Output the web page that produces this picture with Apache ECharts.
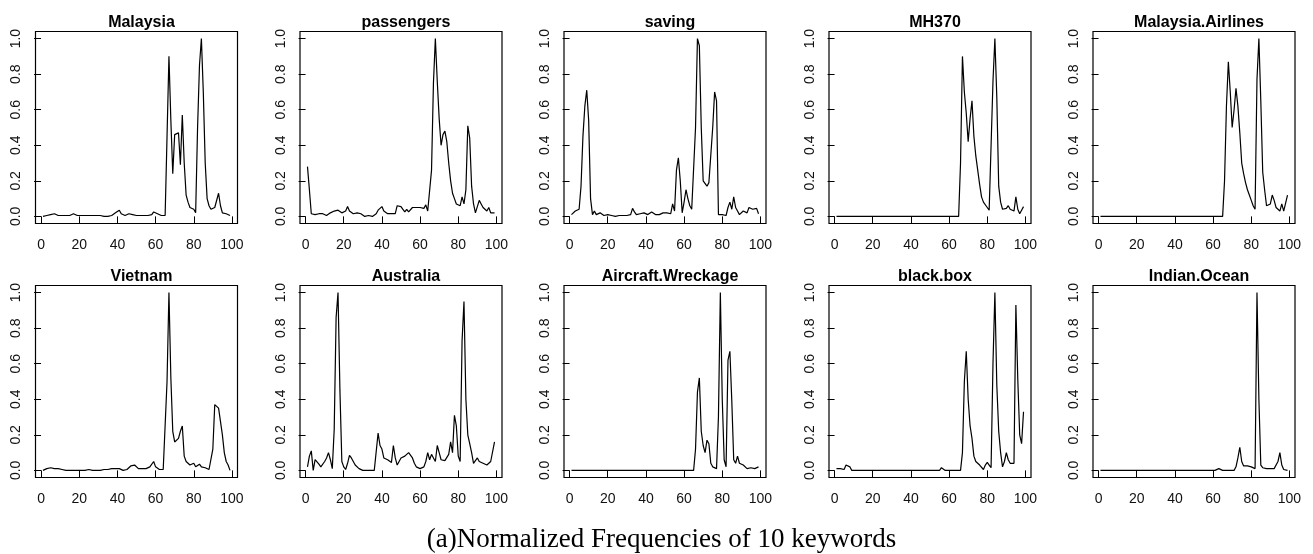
<!DOCTYPE html>
<html>
<head>
<meta charset="utf-8">
<title>Normalized Frequencies of 10 keywords</title>
<script src="https://cdn.jsdelivr.net/npm/echarts@6/dist/echarts.min.js"></script>
<style>
  html, body { margin: 0; padding: 0; background: #fff; }
  #main { width: 1313px; height: 554px; }
</style>
</head>
<body>
<div id="main"></div>
<script>
// panel titles, in drawing order (row by row)
var keywords = ['Malaysia', 'passengers', 'saving', 'MH370', 'Malaysia.Airlines',
  'Vietnam', 'Australia', 'Aircraft.Wreckage', 'black.box', 'Indian.Ocean'];

// normalized frequency per time step (x = 1..99)
var malaysia = [0, 0.005, 0.005, 0.01, 0.01, 0.01, 0.015, 0.01, 0.005, 0.005,
  0.005, 0.005, 0.005, 0.005, 0.005, 0.01, 0.015, 0.01, 0.005, 0.005,
  0.005, 0.005, 0.005, 0.005, 0.005, 0.005, 0.005, 0.005, 0.005, 0.005,
  0.005, 0.005, 0, 0, 0, 0.005, 0.005, 0.01, 0.02, 0.025,
  0.035, 0.015, 0.005, 0.005, 0.01, 0.015, 0.02, 0.01, 0.005, 0.005,
  0.005, 0.005, 0.005, 0.005, 0.005, 0.005, 0.005, 0.01, 0.025, 0.035,
  0.015, 0.005, 0.005, 0.005, 0.005, 0.45, 0.9, 0.54, 0.24, 0.46,
  0.46, 0.47, 0.29, 0.57, 0.3, 0.12, 0.08, 0.05, 0.045, 0.04,
  0.02, 0.5, 0.85, 1.0, 0.7, 0.3, 0.1, 0.06, 0.04, 0.03,
  0.05, 0.04, 0.13, 0.06, 0.02, 0.015, 0.015, 0.01, 0.005];

var passengers = [0.28, 0.15, 0.015, 0.015, 0.01, 0, 0.015, 0.025, 0.015, 0.01,
  0.005, 0.005, 0.02, 0.015, 0.03, 0.04, 0.035, 0.035, 0.02, 0.025,
  0.03, 0.055, 0.03, 0.02, 0.015, 0.025, 0.02, 0.025, 0.015, 0.005,
  0, 0, 0.005, 0.005, 0, 0.005, 0.015, 0.035, 0.045, 0.055,
  0.03, 0.02, 0.015, 0.02, 0.015, 0.015, 0.015, 0.06, 0.07, 0.055,
  0.04, 0.025, 0.04, 0.025, 0.035, 0.05, 0.04, 0.05, 0.05, 0.05,
  0.06, 0.045, 0.065, 0.03, 0.025, 0.26, 0.75, 1.0, 0.76, 0.55,
  0.4, 0.46, 0.48, 0.42, 0.3, 0.2, 0.13, 0.1, 0.07, 0.06,
  0.06, 0.11, 0.07, 0.15, 0.51, 0.44, 0.17, 0.07, 0.02, 0.02,
  0.09, 0.07, 0.05, 0.04, 0.03, 0.05, 0.02, 0.01, 0.02];

var saving = [0.01, 0.02, 0.03, 0.035, 0.04, 0.17, 0.45, 0.62, 0.71, 0.54,
  0.1, 0.01, 0.03, 0.01, 0.01, 0.02, 0.01, 0.005, 0.005, 0.01,
  0.01, 0.005, 0.01, 0, 0, 0.005, 0.005, 0.005, 0.005, 0.005,
  0.005, 0.01, 0.045, 0.025, 0.01, 0.005, 0.015, 0.02, 0.02, 0.03,
  0.01, 0.015, 0.025, 0.02, 0.01, 0.005, 0.01, 0.015, 0.02, 0.02,
  0.02, 0.02, 0.015, 0.07, 0.03, 0.26, 0.33, 0.2, 0.02, 0.08,
  0.15, 0.1, 0.06, 0.04, 0.03, 0.5, 1.0, 0.96, 0.5, 0.2,
  0.19, 0.17, 0.19, 0.2, 0.5, 0.7, 0.65, 0.01, 0.02, 0.01,
  0.01, 0.005, 0.05, 0.08, 0.04, 0.11, 0.05, 0.03, 0.01, 0.01,
  0.03, 0.02, 0.02, 0.05, 0.05, 0.04, 0.03, 0.045, 0.015];

var mh370 = [0, 0, 0, 0, 0, 0, 0, 0, 0, 0,
  0, 0, 0, 0, 0, 0, 0, 0, 0, 0,
  0, 0, 0, 0, 0, 0, 0, 0, 0, 0,
  0, 0, 0, 0, 0, 0, 0, 0, 0, 0,
  0, 0, 0, 0, 0, 0, 0, 0, 0, 0,
  0, 0, 0, 0, 0, 0, 0, 0, 0, 0,
  0, 0, 0, 0, 0, 0.3, 0.9, 0.7, 0.58, 0.42,
  0.55, 0.65, 0.45, 0.34, 0.26, 0.18, 0.11, 0.08, 0.075, 0.05,
  0.035, 0.03, 0.76, 1.0, 0.67, 0.17, 0.08, 0.04, 0.03, 0.045,
  0.06, 0.04, 0.03, 0.03, 0.11, 0.04, 0.015, 0.035, 0.055];

var malaysiaAirlines = [0, 0, 0, 0, 0, 0, 0, 0, 0, 0,
  0, 0, 0, 0, 0, 0, 0, 0, 0, 0,
  0, 0, 0, 0, 0, 0, 0, 0, 0, 0,
  0, 0, 0, 0, 0, 0, 0, 0, 0, 0,
  0, 0, 0, 0, 0, 0, 0, 0, 0, 0,
  0, 0, 0, 0, 0, 0, 0, 0, 0, 0,
  0, 0, 0, 0, 0, 0.2, 0.62, 0.87, 0.7, 0.5,
  0.6, 0.72, 0.62, 0.47, 0.3, 0.24, 0.19, 0.15, 0.12, 0.09,
  0.06, 0.04, 0.77, 1.0, 0.65, 0.25, 0.15, 0.06, 0.05, 0.07,
  0.12, 0.09, 0.05, 0.04, 0.03, 0.07, 0.03, 0.025, 0.12];

var vietnam = [0, 0.005, 0.01, 0.01, 0.015, 0.01, 0.01, 0.01, 0.01, 0.01,
  0.005, 0.005, 0, 0, 0, 0, 0, 0.005, 0, 0.005,
  0, 0, 0, 0.005, 0.005, 0, 0, 0, 0, 0,
  0, 0, 0.005, 0.005, 0.005, 0.005, 0.01, 0.015, 0.01, 0.02,
  0.01, 0.005, 0, 0, 0.005, 0.01, 0.025, 0.02, 0.03, 0.035,
  0.01, 0.01, 0.01, 0.01, 0.01, 0.01, 0.02, 0.03, 0.05, 0.02,
  0.01, 0.005, 0.005, 0.005, 0.005, 0.5, 1.0, 0.52, 0.22, 0.16,
  0.17, 0.18, 0.22, 0.25, 0.08, 0.05, 0.045, 0.03, 0.02, 0.04,
  0.02, 0.025, 0.035, 0.02, 0.02, 0.015, 0.01, 0.005, 0.01, 0.12,
  0.37, 0.36, 0.35, 0.35, 0.2, 0.1, 0.05, 0.03, 0];

var australia = [0.02, 0.08, 0.11, 0, 0.06, 0.05, 0.035, 0.02, 0.03, 0.05,
  0.07, 0.1, 0.06, 0.01, 0.23, 0.86, 1.0, 0.45, 0.05, 0.02,
  0.005, 0.04, 0.085, 0.07, 0.05, 0.03, 0.02, 0.01, 0.005, 0,
  0, 0, 0, 0, 0.005, 0, 0.005, 0.21, 0.14, 0.12,
  0.07, 0.06, 0.06, 0.05, 0.045, 0.14, 0.07, 0.03, 0.05, 0.07,
  0.06, 0.08, 0.09, 0.1, 0.11, 0.07, 0.04, 0.02, 0.015, 0.01,
  0.01, 0.02, 0.05, 0.1, 0.06, 0.09, 0.07, 0.05, 0.14, 0.1,
  0.06, 0.05, 0.055, 0.065, 0.09, 0.16, 0.1, 0.31, 0.25, 0.08,
  0.05, 0.73, 0.95, 0.4, 0.2, 0.15, 0.1, 0.04, 0.03, 0.07,
  0.05, 0.05, 0.04, 0.035, 0.03, 0.04, 0.05, 0.04, 0.16];

var aircraftWreckage = [0, 0, 0, 0, 0, 0, 0, 0, 0, 0,
  0, 0, 0, 0, 0, 0, 0, 0, 0, 0,
  0, 0, 0, 0, 0, 0, 0, 0, 0, 0,
  0, 0, 0, 0, 0, 0, 0, 0, 0, 0,
  0, 0, 0, 0, 0, 0, 0, 0, 0, 0,
  0, 0, 0, 0, 0, 0, 0, 0, 0, 0,
  0, 0, 0, 0, 0, 0.12, 0.44, 0.52, 0.22, 0.14,
  0.1, 0.17, 0.15, 0.04, 0.02, 0.015, 0.01, 0.3, 1.0, 0.4,
  0.06, 0.02, 0.62, 0.67, 0.39, 0.06, 0.04, 0.08, 0.04, 0.05,
  0.03, 0.02, 0.01, 0.01, 0.015, 0.01, 0.01, 0.015, 0.02];

var blackBox = [0.01, 0.01, 0.01, 0.005, 0.005, 0.03, 0.025, 0.02, 0, 0,
  0, 0, 0, 0, 0, 0, 0, 0, 0, 0,
  0, 0, 0, 0, 0, 0, 0, 0, 0, 0,
  0, 0, 0, 0, 0, 0, 0, 0, 0, 0,
  0, 0, 0, 0, 0, 0, 0, 0, 0, 0,
  0, 0, 0, 0, 0, 0.015, 0.005, 0, 0, 0,
  0, 0, 0, 0, 0, 0, 0.1, 0.5, 0.67, 0.4,
  0.25, 0.18, 0.08, 0.05, 0.04, 0.03, 0.02, 0.005, 0.03, 0.045,
  0.03, 0.015, 0.6, 1.0, 0.48, 0.22, 0.1, 0.02, 0.05, 0.1,
  0.06, 0.04, 0.03, 0.04, 0.93, 0.51, 0.2, 0.15, 0.33];

var indianOcean = [0, 0, 0, 0, 0, 0, 0, 0, 0, 0,
  0, 0, 0, 0, 0, 0, 0, 0, 0, 0,
  0, 0, 0, 0, 0, 0, 0, 0, 0, 0,
  0, 0, 0, 0, 0, 0, 0, 0, 0, 0,
  0, 0, 0, 0, 0, 0, 0, 0, 0, 0,
  0, 0, 0, 0, 0, 0, 0, 0, 0, 0,
  0, 0, 0.01, 0, 0, 0, 0, 0, 0, 0,
  0, 0.02, 0.07, 0.13, 0.05, 0.025, 0.02, 0.025, 0.02, 0.02,
  0.015, 0.01, 1.0, 0.4, 0.03, 0.015, 0.01, 0.01, 0.01, 0.01,
  0.01, 0.01, 0.005, 0.05, 0.1, 0.03, 0.005, 0, 0];

var xTicks = [0, 20, 40, 60, 80, 100];
var yTicks = [0, 0.2, 0.4, 0.6, 0.8, 1.0];
var caption = '(a)Normalized Frequencies of 10 keywords';

var allSeries = [malaysia, passengers, saving, mh370, malaysiaAirlines,
  vietnam, australia, aircraftWreckage, blackBox, indianOcean];

// panel boxes (R plot regions)
var boxLeft = [35.5, 300, 564, 829, 1093];
var boxTop = [31.5, 285.5];
var boxW = 202, boxH = 192;
var titleTop = [10, 264];

var chart = echarts.init(document.getElementById('main'));

var grids = [], xAxes = [], yAxes = [], series = [], titles = [];
var tickFont = { fontFamily: 'Liberation Sans', fontSize: 14, color: '#111' };

allSeries.forEach(function (vals, i) {
  var row = Math.floor(i / 5), col = i % 5;
  var n = vals.length;
  var padX = (n - 1) * 0.04;   // R's default 4% axis extension
  grids.push({
    left: boxLeft[col], top: boxTop[row], width: boxW, height: boxH,
    show: true, borderColor: '#000', borderWidth: 1.2, backgroundColor: 'transparent'
  });
  xAxes.push({
    gridIndex: i, type: 'value', min: 1 - padX, max: n + padX,
    axisLine: { show: false },
    splitLine: { show: false },
    axisTick: { show: true, customValues: xTicks, length: 7, lineStyle: { color: '#000', width: 1 } },
    axisLabel: Object.assign({ customValues: xTicks, margin: 15 }, tickFont)
  });
  yAxes.push({
    gridIndex: i, type: 'value', min: -0.04, max: 1.04,
    axisLine: { show: false },
    splitLine: { show: false },
    axisTick: { show: true, customValues: yTicks, length: 7, lineStyle: { color: '#000', width: 1 } },
    axisLabel: Object.assign({
      customValues: yTicks, margin: 12, rotate: 90,
      formatter: function (v) { return v.toFixed(1); }
    }, tickFont)
  });
  series.push({
    type: 'line', xAxisIndex: i, yAxisIndex: i,
    symbol: 'none', silent: true,
    lineStyle: { color: '#000', width: 1.2 },
    data: vals.map(function (v, k) { return [k + 1, v]; })
  });
  titles.push({
    text: keywords[i], left: boxLeft[col] + boxW / 2, top: titleTop[row], textAlign: 'center',
    textStyle: { fontFamily: 'Liberation Sans', fontSize: 16, fontWeight: 'bold', color: '#000' }
  });
});

titles.push({
  text: caption, left: 656.5, top: 521, textAlign: 'center',
  textStyle: { fontFamily: 'Liberation Serif', fontSize: 27, fontWeight: 'normal', color: '#000' }
});

chart.setOption({
  animation: false,
  backgroundColor: '#fff',
  title: titles,
  grid: grids,
  xAxis: xAxes,
  yAxis: yAxes,
  series: series
});
</script>
</body>
</html>
